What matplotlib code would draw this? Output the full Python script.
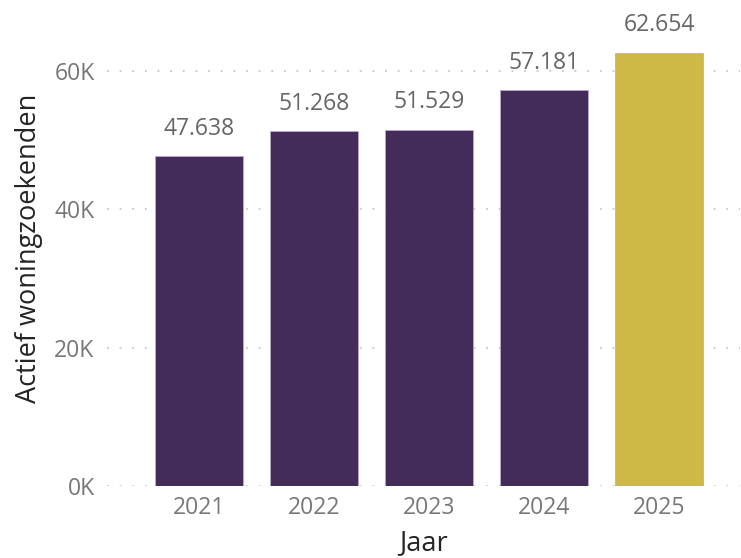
import matplotlib
matplotlib.use("Agg")
import matplotlib.pyplot as plt
from matplotlib.ticker import FuncFormatter

years = ["2021", "2022", "2023", "2024", "2025"]
values = [47638, 51268, 51529, 57181, 62654]
bar_colors = ["#432c5a", "#432c5a", "#432c5a", "#432c5a", "#cfb946"]
y_ticks = [0, 20000, 40000, 60000]

plt.rcParams["font.family"] = ["Open Sans", "DejaVu Sans"]

fig = plt.figure(figsize=(7.41, 5.58), dpi=100)
ax = fig.add_axes([0.1444, 0.129, 0.854, 0.853])

x = list(range(len(years)))
ax.bar(x, values, width=0.765, color=bar_colors, edgecolor="#b9adc6",
       linewidth=0.6, zorder=3)

def fmt_dots(v):
    return f"{v:,}".replace(",", ".")

for xi, v in zip(x, values):
    ax.annotate(fmt_dots(v), (xi, v), xytext=(0, 11), textcoords="offset points",
                ha="center", va="bottom", fontsize=16.5, color="#666666")

ax.set_xlim(-0.8, 4.7)
ax.set_ylim(0, 68800)
ax.set_yticks(y_ticks)
ax.yaxis.set_major_formatter(FuncFormatter(lambda v, p: f"{int(v / 1000)}K"))
ax.set_xticks(x)
ax.set_xticklabels(years)

ax.grid(axis="y", color="#c8c8c8", linestyle=(0, (1, 6)), linewidth=1.3, zorder=0)
ax.tick_params(axis="both", length=0, labelsize=16.5, labelcolor="#777777")
ax.tick_params(axis="y", pad=9)
ax.tick_params(axis="x", pad=7)
for s in ax.spines.values():
    s.set_visible(False)

ax.set_xlabel("Jaar", fontsize=19.5, color="#252423", labelpad=6.5)
ax.set_ylabel("Actief woningzoekenden", fontsize=19.5, color="#252423", labelpad=8)

fig.savefig("out.png", dpi=100)
